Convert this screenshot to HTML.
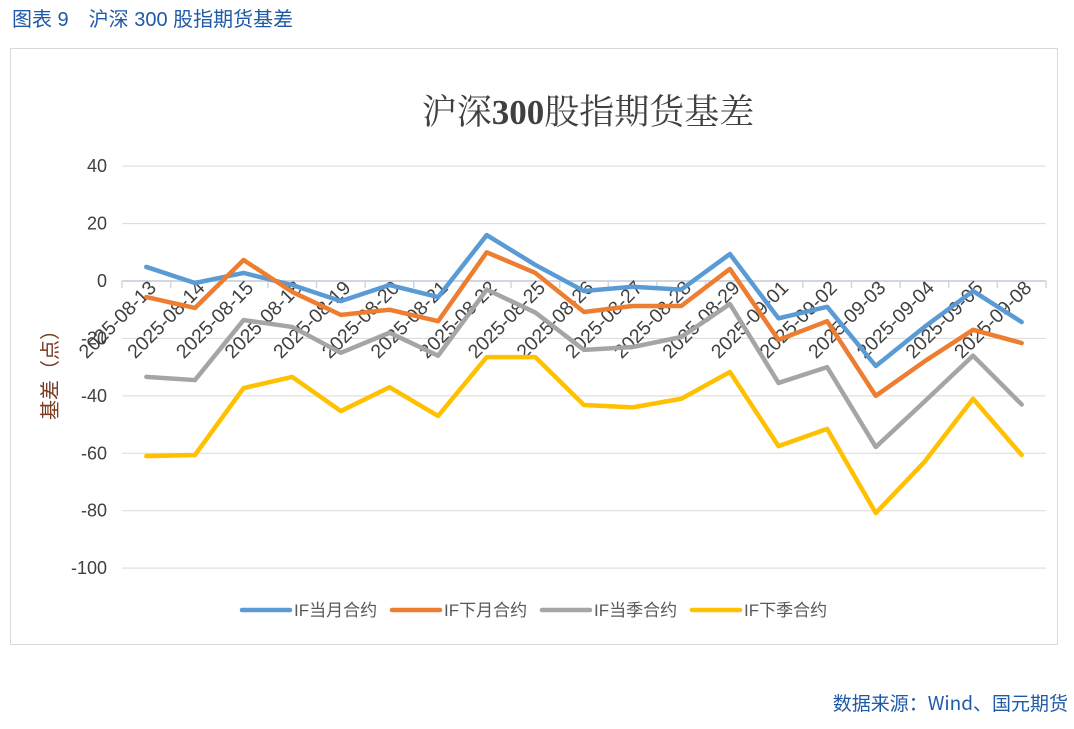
<!DOCTYPE html>
<html><head><meta charset="utf-8"><style>
body{margin:0;background:#fff;width:1074px;height:724px;overflow:hidden;font-family:"Liberation Sans","Noto Sans CJK SC",sans-serif}
</style></head><body>
<svg width="1074" height="724" xmlns="http://www.w3.org/2000/svg">
<text x="12" y="26" font-size="20" fill="#1f5aa6" font-family="Liberation Sans,Noto Sans CJK SC,sans-serif">图表 9　沪深 300 股指期货基差</text>
<rect x="10.5" y="48.5" width="1047" height="596" fill="#fff" stroke="#d9d9d9"/>
<text x="588" y="124" font-size="35" fill="#404040" text-anchor="middle" font-family="Liberation Serif,Noto Serif CJK SC,serif">沪深<tspan font-weight="bold">300</tspan>股指期货基差</text>
<g id="grid"></g>
<g id="ylab"></g>
<g id="xlab"></g>
<g id="lines"></g>
<text transform="translate(57,370) rotate(-90)" font-size="20" fill="#7a3b22" text-anchor="middle" font-family="Noto Sans CJK SC,sans-serif">基差（点）</text>
<g id="legend"></g>
<text x="1068" y="710" font-size="19" fill="#1f5aa6" text-anchor="end" font-family="Noto Sans CJK SC,sans-serif">数据来源：Wind、国元期货</text>
</svg>
<script>
const categories=["2025-08-13","2025-08-14","2025-08-15","2025-08-18","2025-08-19","2025-08-20","2025-08-21","2025-08-22","2025-08-25","2025-08-26","2025-08-27","2025-08-28","2025-08-29","2025-09-01","2025-09-02","2025-09-03","2025-09-04","2025-09-05","2025-09-08"];
const ifCurrentMonth=[4.9,-0.7,2.8,-1.4,-7,-1.4,-5.6,16,5.6,-3.5,-2,-3,9.4,-13,-9,-29.6,-16,-3.5,-14.3];
const ifNextMonth=[-5.6,-9.4,7.3,-3.8,-11.8,-10,-14,10,2.8,-10.8,-8.7,-8.7,4.2,-20.5,-14,-40,-28,-17,-21.6];
const ifCurrentQuarter=[-33.4,-34.5,-13.6,-16,-25,-18,-26,-3,-11,-24,-23,-19.5,-8,-35.5,-30,-57.8,-42,-26,-43];
const ifNextQuarter=[-61,-60.6,-37.3,-33.4,-45.3,-37,-47,-26.5,-26.5,-43.2,-44,-41,-31.7,-57.5,-51.5,-80.8,-63,-41,-60.6];
const yTicks=[40,20,0,-20,-40,-60,-80,-100];
const seriesNames=["IF当月合约","IF下月合约","IF当季合约","IF下季合约"];
const NS="http://www.w3.org/2000/svg";
const L=122,R=1046,band=(R-L)/categories.length;
const x=i=>L+band*(i+0.5);
const y=v=>281-(v)*(402/140);
function mk(t,a,p){const e=document.createElementNS(NS,t);for(const k in a)e.setAttribute(k,a[k]);p.appendChild(e);return e;}
const grid=document.getElementById('grid'),ylab=document.getElementById('ylab'),xlab=document.getElementById('xlab'),lines=document.getElementById('lines'),leg=document.getElementById('legend');
yTicks.forEach(v=>{
 const g=mk('line',{x1:L,x2:R,y1:y(v),y2:y(v),stroke:v===0?'#d0d7e2':'#d9d9d9','stroke-width':v===0?2:1},grid);
 
 
 const t=mk('text',{x:107,y:y(v)+6,'font-size':18,fill:'#404040','text-anchor':'end'},ylab);
 t.textContent=v;
 
 
});
for(let i=0;i<=categories.length;i++){
 const tk=mk('line',{x1:L+band*i,x2:L+band*i,y1:281,y2:288,stroke:'#d0d7e2','stroke-width':1.5},grid);
 
 
}
const colors=['#5b9bd5','#ed7d31','#a5a5a5','#ffc000'];
[ifCurrentMonth,ifNextMonth,ifCurrentQuarter,ifNextQuarter].forEach((s,k)=>{
 const p=mk('polyline',{points:s.map((v,i)=>x(i)+','+y(v)).join(' '),fill:'none',stroke:colors[k],'stroke-width':4.5,'stroke-linejoin':'round','stroke-linecap':'round'},lines);
 
 
});
categories.forEach((c,i)=>{
 const t=mk('text',{transform:`translate(${x(i)+11},289) rotate(-45)`,'font-size':19.5,fill:'#404040','text-anchor':'end'},xlab);
 t.textContent=c;
 
 
});
const lx=[242,392,542,692];
seriesNames.forEach((n,k)=>{
 const g=mk('g',{},leg);
 
 
 mk('line',{x1:lx[k],x2:lx[k]+48,y1:610,y2:610,stroke:colors[k],'stroke-width':4.5,'stroke-linecap':'round'},g);
 const t=mk('text',{x:lx[k]+52,y:616,'font-size':17,fill:'#595959'},g);
 t.textContent=n;
});
</script>
</body></html>
